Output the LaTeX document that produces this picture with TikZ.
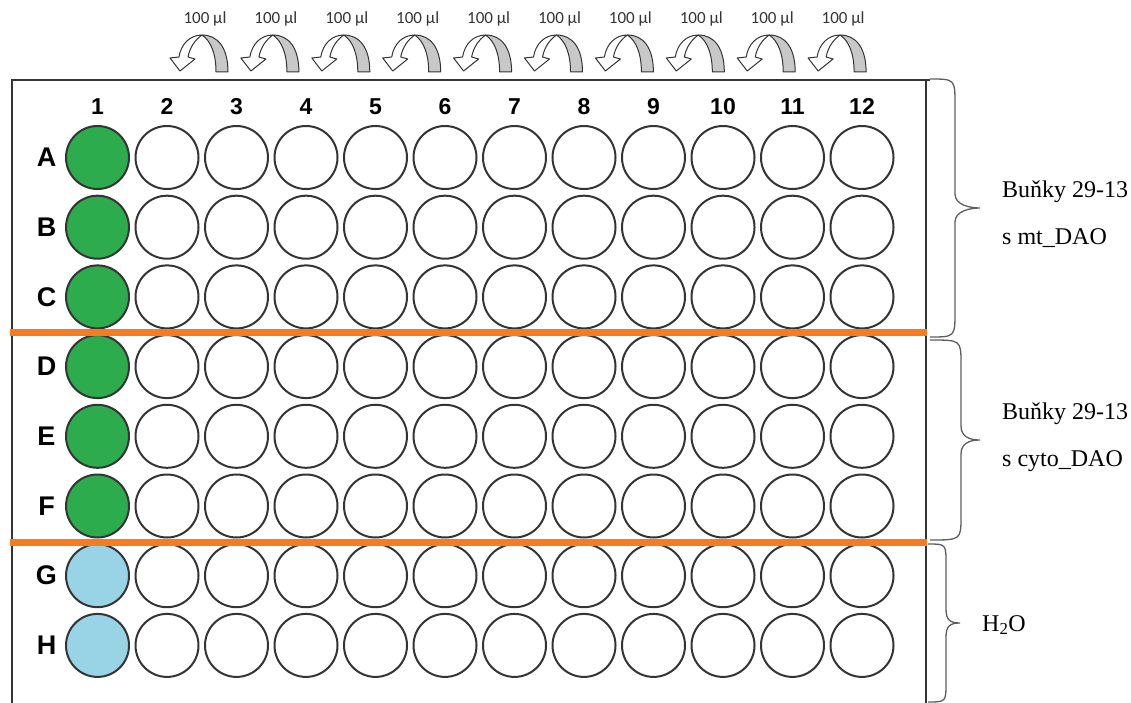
\documentclass[tikz,border=0pt]{standalone}
\usepackage{fontspec}
\setmainfont{Liberation Serif}
\newfontfamily\platefont{Liberation Sans}
\newfontfamily\volfont{Carlito}
\usepackage{xcolor}
\usepackage{tikz}
\usetikzlibrary{positioning}
\definecolor{wellgreen}{RGB}{44,172,76}
\definecolor{wellblue}{RGB}{152,211,230}
\definecolor{cutorange}{RGB}{245,124,32}
\definecolor{rimgray}{RGB}{52,52,52}
\definecolor{backgray}{RGB}{200,200,200}
\tikzset{
  well/.style    ={circle, draw=rimgray, line width=2pt, minimum size=63pt,
                   inner sep=0pt, fill=white},
  rowlab/.style  ={font=\platefont\bfseries\fontsize{27}{27}\selectfont, inner sep=0pt},
  collab/.style  ={font=\platefont\bfseries\fontsize{23}{23}\selectfont, inner sep=0pt,
                   anchor=base},
  vol/.style     ={font=\volfont\fontsize{17}{17}\selectfont, text=rimgray, inner sep=0pt},
  grplab/.style  ={font=\fontsize{24}{47}\selectfont, align=left, inner sep=0pt},
  rim/.style     ={draw=rimgray, line width=2.5pt},
  cut/.style     ={draw=cutorange, line width=7pt},
  brc/.style     ={draw=rimgray!80, line width=1.3pt},
  arrback/.style ={fill=backgray, draw=rimgray, line width=1pt, line join=round},
  arrfront/.style={fill=white, draw=rimgray, line width=1pt, line join=round},
}

\begin{document}
\begin{tikzpicture}[x=1pt, y=-1pt]
  \useasboundingbox (0,0) rectangle (1131,703);

  % ── Plate frame ────────────────────────────────────────────────────
  \coordinate (plate-sw) at (12,703);
  \coordinate (plate-nw) at (12,80);
  \coordinate (plate-ne) at (930,80);
  \coordinate (plate-rn) at (926,80);
  \coordinate (plate-se) at (926,703);
  \draw[rim] (plate-sw) -- (plate-nw) -- (plate-ne);
  \draw[rim] (plate-rn) -- (plate-se);

  % ── Column numbers ─────────────────────────────────────────────────
  \foreach \c in {1,...,12}
    \node[collab] (col-\c) at ({97.5+69.5*(\c-1)},115) {\c};

  % ── Rows of wells ──────────────────────────────────────────────────
  \foreach \r/\tone [count=\i] in {A/wellgreen, B/wellgreen, C/wellgreen,
                                   D/wellgreen, E/wellgreen, F/wellgreen,
                                   G/wellblue, H/wellblue}{
    \node[rowlab] (row-\r) at (46.5,{157.5+69.7*(\i-1)}) {\r};
    \node[well, fill=\tone] (w-\r1) at (97.5,{157.5+69.7*(\i-1)}) {};
    \foreach \c in {2,...,12}
      \node[well] (w-\r\c) at ({97.5+69.5*(\c-1)},{157.5+69.7*(\i-1)}) {};
  }

  % ── Orange dividers ────────────────────────────────────────────────
  \coordinate (cutCD-w) at (10,332);  \coordinate (cutCD-e) at (927,332);
  \coordinate (cutFG-w) at (10,542);  \coordinate (cutFG-e) at (927,542);
  \draw[cut] (cutCD-w) -- (cutCD-e);
  \draw[cut] (cutFG-w) -- (cutFG-e);

  % ── Dilution arrows ────────────────────────────────────────────────
  \foreach \k in {0,...,9}{
    \pgfmathsetmacro\cx{202+70.9*\k}
    \begin{scope}[shift={(\cx,0)}]
      \filldraw[arrback] (0,35) .. controls (16,35) and (26,48) .. (26,72)
        -- (14,72) .. controls (14,54) and (9,41) .. (0,35) -- cycle;
      \filldraw[arrfront] (0,35) .. controls (-12,35) and (-21,44) .. (-23,57)
        -- (-32,58) -- (-22,71) -- (-7,59) -- (-14,57)
        .. controls (-12,47) and (-7,40) .. (0,35) -- cycle;
    \end{scope}
    \node[vol] (vol-\k) at (\cx+3,19) {100 µl};
  }

  % ── Group braces ───────────────────────────────────────────────────
  \foreach \ya/\yb/\xa/\xb/\xc/\rr [count=\n] in {79/337/930/955/980/26,
                                                  340/540/930/961/980/24,
                                                  544/702/928/946/960/20}{
    \pgfmathsetmacro\ym{(\ya+\yb)/2}
    \coordinate (grp\n-tip) at (\xc,\ym);
    \draw[brc] (\xa,\ya) .. controls (\xb,\ya) .. (\xb,\ya+\rr)
      -- (\xb,\ym-14) .. controls (\xb,\ym-3) and (\xc-10,\ym) .. (grp\n-tip)
      .. controls (\xc-10,\ym) and (\xb,\ym+3) .. (\xb,\ym+14)
      -- (\xb,\yb-\rr) .. controls (\xb,\yb) .. (\xa,\yb);
  }

  % ── Group labels ───────────────────────────────────────────────────
  \node[grplab, anchor=west] (grp1-txt) at (1002,214) {Buňky 29-13\\s mt\_DAO};
  \node[grplab, anchor=west] (grp2-txt) at (1002,437) {Buňky 29-13\\s cyto\_DAO};
  \node[grplab, anchor=base west] (grp3-txt) at (982,631) {H\textsubscript{2}O};

\end{tikzpicture}
\end{document}
